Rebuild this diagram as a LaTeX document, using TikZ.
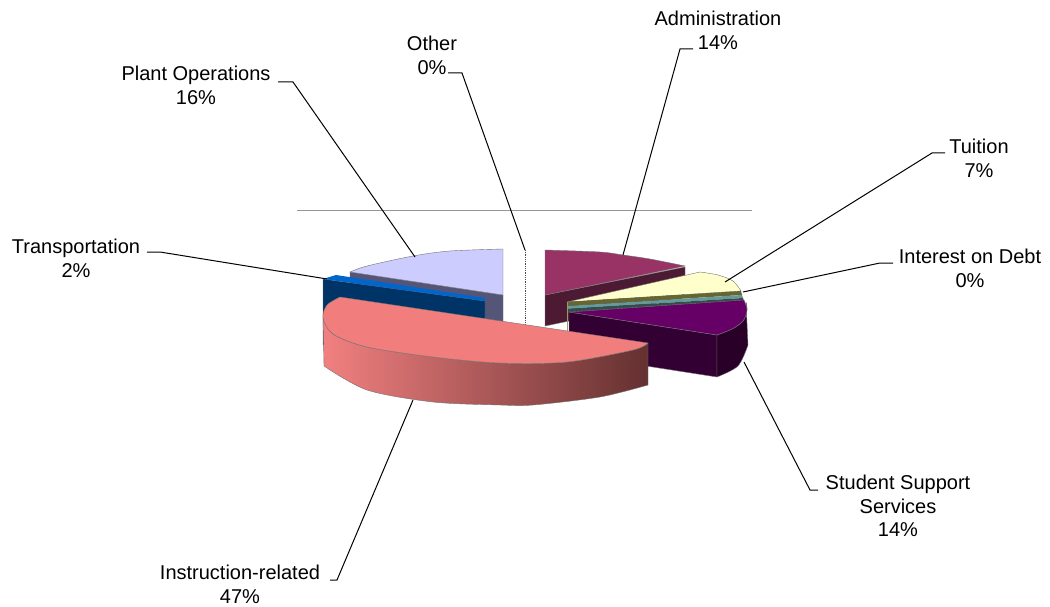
\documentclass[tikz,border=0pt]{standalone}
\usepackage{fontspec}
\setmainfont{Liberation Sans}
\definecolor{planttop}{RGB}{204,204,255}
\definecolor{plantside}{RGB}{85,85,120}
\definecolor{transtop}{RGB}{0,102,204}
\definecolor{transside}{RGB}{0,51,102}
\definecolor{redtop}{RGB}{242,125,125}
\definecolor{redL}{RGB}{242,128,128}
\definecolor{redM}{RGB}{215,108,108}
\definecolor{redR}{RGB}{100,48,48}
\definecolor{admintop}{RGB}{153,51,102}
\definecolor{adminside}{RGB}{77,26,51}
\definecolor{tuittop}{RGB}{255,255,204}
\definecolor{tuitside}{RGB}{102,102,51}
\definecolor{inttop}{RGB}{102,153,153}
\definecolor{intside}{RGB}{51,77,77}
\definecolor{studtop}{RGB}{102,0,102}
\definecolor{studside}{RGB}{51,0,51}
\definecolor{studouter}{RGB}{40,0,40}
\definecolor{olive}{RGB}{153,153,102}
\definecolor{gridgray}{RGB}{150,150,150}
\begin{document}
\begin{tikzpicture}[x=1pt,y=-1pt,
  lbl/.style={inner sep=0pt, align=center, anchor=north, font=\fontsize{20}{23.5}\selectfont},
  leader/.style={draw=black, line width=1pt},
  face/.style={draw=black!55, line width=0.4pt}]
\useasboundingbox (0,0) rectangle (1050,607);

% back wall line
\coordinate (gl) at (297,210);
\coordinate (gr) at (752,210);
\draw[gridgray, line width=1pt] (gl) -- (gr);

% Plant Operations
\fill[plantside, face] (350,272) -- (503,295) -- (503,324) -- (350,300) -- cycle;
\fill[planttop, face] (503,295) -- (350,272) -- plot[smooth] coordinates {(350,272) (367,266) (413,256) (450,251) (503,249)} -- cycle;

% Transportation
\fill[transside, face] (323,279) -- (485,301) -- (485,318) -- (323,345) -- cycle;
\fill[transtop] (323,279) -- (336,275) -- (485,298) -- (485,301) -- cycle;

% Administration
\fill[adminside, face] (545,295) -- (685,267) -- (685,297) -- (545,326) -- cycle;
\fill[admintop, face] (545,295) -- (545,250) -- plot[smooth] coordinates {(545,250) (600,252) (623,255) (650,259) (685,266)} -- cycle;

% Tuition
\fill[tuittop, face] (567,302) -- (700,272) -- plot[smooth] coordinates {(700,272) (718,275) (733,281) (741,291)} -- cycle;
\fill[tuitside] (567,302) -- (741,291) -- (742,295) -- (567,306) -- cycle;

% Interest on Debt
\fill[inttop] (567,306) -- (742,295) -- (743,298) -- (567,309) -- cycle;
\fill[intside] (567,309) -- (743,298) -- (744,301) -- (567,312) -- cycle;

% Student Support Services
\fill[studside, face] (569,312) -- (717,335) -- (717,377) -- (569,354) -- cycle;
\fill[studouter, face] (717,335) -- plot[smooth] coordinates {(717,335) (732,329) (743,321) (747,310) (746,302)} -- (748,345) -- plot[smooth] coordinates {(748,345) (738,366) (717,377)} -- cycle;
\fill[studtop, face] (569,312) -- (744,300) -- plot[smooth] coordinates {(744,300) (747,310) (743,321) (732,329) (717,335)} -- cycle;
\draw[olive, line width=1pt] (567,302) -- (567,334);

% Other (0%)
\draw[black!70, densely dotted, line width=0.8pt] (525,250) -- (525,325);

% Instruction-related
\shade[left color=redL, middle color=redM, right color=redR, draw=black!55, line width=0.4pt]
  (323,318) -- (324,366) -- plot[smooth] coordinates {(324,366) (367,390) (433,402) (500,405) (533,405) (600,397) (648,385)}
  -- (648,343) -- plot[smooth] coordinates {(648,343) (633,350) (567,362) (500,363) (433,357) (367,347) (333,334) (323,318)} -- cycle;
\fill[redtop, face] (340,297) -- (648,343) -- plot[smooth] coordinates {(648,343) (633,350) (567,362) (500,363) (433,357) (367,347) (333,334) (323,318) (327,305) (340,297)} -- cycle;

% Labels
\node[lbl] (ladmin) at (718,11) {Administration\\14\%};
\node[lbl] (lother) at (432,36) {Other\\0\%};
\node[lbl] (lplant) at (196,66) {Plant Operations\\16\%};
\node[lbl] (ltuit) at (979,139) {Tuition\\7\%};
\node[lbl] (ltrans) at (76,239) {Transportation\\2\%};
\node[lbl] (lint) at (970,249) {Interest on Debt\\0\%};
\node[lbl] (lstud) at (898,475) {Student Support\\Services\\14\%};
\node[lbl] (linst) at (240,565) {Instruction-related\\47\%};

% Leader points
\coordinate (tadminA) at (680,49); \coordinate (tadminB) at (693,49); \coordinate (padmin) at (623,255);
\coordinate (totherA) at (448,73); \coordinate (totherB) at (462,73); \coordinate (pother) at (525,250);
\coordinate (tplantA) at (278,82); \coordinate (tplantB) at (293,82); \coordinate (pplant) at (415,257);
\coordinate (ttuitA) at (932,153); \coordinate (ttuitB) at (945,153); \coordinate (ptuit) at (725,282);
\coordinate (ttransA) at (147,252); \coordinate (ttransB) at (160,252); \coordinate (ptrans) at (327,279);
\coordinate (tintA) at (880,263); \coordinate (tintB) at (893,263); \coordinate (pint) at (743,292);
\coordinate (tstudA) at (818,490); \coordinate (tstudB) at (810,490); \coordinate (pstud) at (744,362);
\coordinate (tinstA) at (330,580); \coordinate (tinstB) at (337,580); \coordinate (pinst) at (413,400);

\draw[leader] (tadminB) -- (tadminA) -- (padmin);
\draw[leader] (totherA) -- (totherB) -- (pother);
\draw[leader] (tplantA) -- (tplantB) -- (pplant);
\draw[leader] (ttuitB) -- (ttuitA) -- (ptuit);
\draw[leader] (ttransA) -- (ttransB) -- (ptrans);
\draw[leader] (tintB) -- (tintA) -- (pint);
\draw[leader] (tstudA) -- (tstudB) -- (pstud);
\draw[leader] (tinstA) -- (tinstB) -- (pinst);
\end{tikzpicture}
\end{document}
